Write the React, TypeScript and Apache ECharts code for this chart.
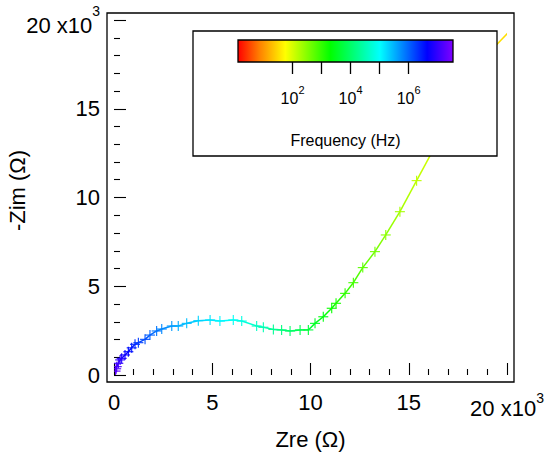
import React, { useEffect, useRef } from "react";
import * as echarts from "echarts";

// Nyquist data (Ω), ordered from high frequency (near origin) to low frequency
const zre = [80, 110, 140, 220, 310, 390, 560, 730, 900, 1070, 1240, 1580, 1830, 2170, 2430, 2940, 3270, 3700, 4290, 4890, 5390, 6070, 6500, 7260, 7600, 8110, 8530, 8960, 9470, 9890, 10230, 10650, 11080, 11300, 11760, 12180, 12660, 13280, 13830, 14550, 15400, 16300, 17300, 18400, 19200, 20600];
const zim = [220, 350, 470, 660, 850, 940, 1130, 1310, 1530, 1730, 1820, 2010, 2250, 2480, 2590, 2760, 2760, 2910, 3060, 3100, 3040, 3100, 3040, 2760, 2690, 2570, 2540, 2480, 2540, 2540, 2910, 3280, 3760, 4040, 4600, 5200, 6050, 6950, 7890, 9200, 10950, 12800, 14800, 16900, 18300, 19900];
// log10(frequency / Hz) of each point
const logFreq = [7.3, 7.22, 7.14, 7.05, 6.95, 6.85, 6.73, 6.62, 6.5, 6.38, 6.26, 6.14, 6.02, 5.9, 5.78, 5.66, 5.54, 5.42, 5.3, 5.18, 5.06, 4.94, 4.82, 4.62, 4.5, 4.3, 4.15, 4.0, 3.85, 3.7, 3.55, 3.4, 3.25, 3.15, 3.02, 2.9, 2.75, 2.6, 2.45, 2.3, 2.15, 2.0, 1.85, 1.7, 1.58, 1.45];

const axisMax = 20000;
const axisInterval = 5000;
const expLabel = "3";
const cbTickValues = [2, 3, 4, 5, 6];
const cbLabelValues = [2, 4, 6];
const CB_MIN = 0.12;
const CB_MAX = 7.53;

const rainbow: [number, string][] = [
  [0, "#ff0000"],
  [0.1, "#ff8000"],
  [0.22, "#ffff00"],
  [0.43, "#00ff00"],
  [0.66, "#00ffff"],
  [0.88, "#0000ff"],
  [1, "#8000ff"],
];

const FONT = "'Liberation Sans', Arial, Helvetica, sans-serif";

// layout
const GRID_L = 114, GRID_T = 20, GRID_W = 393, GRID_H = 355, OFF = 7;
const LEG_X = 193, LEG_Y = 31, LEG_W = 304, LEG_H = 125;
const CB_L = 238, CB_T = 40, CB_W = 215, CB_H = 22;

function hexToRgb(h: string) {
  const n = parseInt(h.slice(1), 16);
  return [(n >> 16) & 255, (n >> 8) & 255, n & 255];
}
function colorAt(lf: number) {
  let t = (lf - CB_MIN) / (CB_MAX - CB_MIN);
  t = Math.max(0, Math.min(1, t));
  for (let k = 0; k < rainbow.length - 1; k++) {
    const [a, ca] = rainbow[k];
    const [b, cb] = rainbow[k + 1];
    if (t >= a && t <= b) {
      const u = (t - a) / (b - a);
      const A = hexToRgb(ca), B = hexToRgb(cb);
      const c = A.map((v, j) => Math.round(v + (B[j] - v) * u));
      return `rgb(${c[0]},${c[1]},${c[2]})`;
    }
  }
  return rainbow[rainbow.length - 1][1];
}

export default function App() {
  const ref = useRef<HTMLDivElement>(null);
  useEffect(() => {
    if (!ref.current) return;
    const chart = echarts.init(ref.current, undefined, { renderer: "svg" });
    const n = zre.length;
    const colors = logFreq.map(colorAt);

    const mainLabel = (isX: boolean) => ({
      fontSize: 22,
      color: "#000",
      fontFamily: FONT,
      margin: isX ? 9 : 7,
      formatter: (v: number) =>
        v === axisMax ? `{b|${v / 1000} x10}{s|${expLabel}}` : String(v / 1000),
      rich: {
        b: { fontSize: 22, fontFamily: FONT, color: "#000", padding: isX ? [6, 0, 0, 0] : [10, 0, 0, 0] },
        s: { fontSize: 14, fontFamily: FONT, color: "#000", verticalAlign: "top" },
      },
    });

    const tickStyle = { color: "#000", width: 1.1 };

    chart.setOption({
      animation: false,
      backgroundColor: "#fff",
      grid: [
        { left: GRID_L, top: GRID_T, width: GRID_W, height: GRID_H, containLabel: false, outerBoundsMode: "none" },
        { left: CB_L, top: CB_T, width: CB_W, height: CB_H, containLabel: false, outerBoundsMode: "none" },
      ],
      xAxis: [
        {
          type: "value",
          gridIndex: 0,
          min: 0,
          max: axisMax,
          interval: axisInterval,
          offset: OFF,
          axisLine: { show: false },
          axisTick: { show: true, inside: true, length: 12, lineStyle: tickStyle },
          minorTick: { show: true, splitNumber: 5, length: 6, lineStyle: tickStyle },
          splitLine: { show: false },
          minorSplitLine: { show: false },
          axisLabel: mainLabel(true),
          name: "Zre (Ω)",
          nameLocation: "middle",
          nameGap: 46,
          nameTextStyle: { fontSize: 22, color: "#000", fontFamily: FONT },
        },
        {
          type: "value",
          gridIndex: 1,
          min: CB_MIN,
          max: CB_MAX,
          z: 12,
          axisLine: { show: false },
          axisTick: { show: true, inside: false, length: 12, customValues: cbTickValues, lineStyle: { color: "#000", width: 1.3 } },
          splitLine: { show: false },
          axisLabel: {
            customValues: cbLabelValues,
            margin: 22,
            formatter: (v: number) => `{n|10}{e|${Math.round(v)}}`,
            rich: {
              n: { fontSize: 16, fontFamily: FONT, color: "#000", padding: [6, 0, 0, 0] },
              e: { fontSize: 11, fontFamily: FONT, color: "#000", verticalAlign: "top" },
            },
          },
          name: "Frequency (Hz)",
          nameLocation: "middle",
          nameGap: 70,
          nameTextStyle: { fontSize: 16, color: "#000", fontFamily: FONT },
        },
      ],
      yAxis: [
        {
          type: "value",
          gridIndex: 0,
          min: 0,
          max: axisMax,
          interval: axisInterval,
          offset: OFF,
          axisLine: { show: false },
          axisTick: { show: true, inside: true, length: 12, lineStyle: tickStyle },
          minorTick: { show: true, splitNumber: 5, length: 6, lineStyle: tickStyle },
          splitLine: { show: false },
          minorSplitLine: { show: false },
          axisLabel: mainLabel(false),
          name: "-Zim (Ω)",
          nameLocation: "middle",
          nameGap: 79,
          nameMoveOverlap: false,
          nameTextStyle: { fontSize: 22, color: "#000", fontFamily: FONT, padding: [0, 0, 0, 14] },
        },
        { type: "value", gridIndex: 1, min: 0, max: 1, show: false },
      ],
      series: [
        {
          type: "custom",
          coordinateSystem: "cartesian2d",
          xAxisIndex: 0,
          yAxisIndex: 0,
          clip: true,
          z: 2,
          data: zre.map((x, i) => [x, zim[i], logFreq[i]]),
          renderItem: (params: any, api: any) => {
            const i = params.dataIndex;
            const p = api.coord([zre[i], zim[i]]);
            const children: any[] = [];
            if (i < n - 1) {
              const q = api.coord([zre[i + 1], zim[i + 1]]);
              children.push({
                type: "line",
                shape: { x1: p[0], y1: p[1], x2: q[0], y2: q[1] },
                style: {
                  stroke: new echarts.graphic.LinearGradient(p[0], p[1], q[0], q[1], [
                    { offset: 0, color: colors[i] },
                    { offset: 1, color: colors[i + 1] },
                  ], true),
                  lineWidth: 1.5,
                },
              });
            }
            const s = 5;
            children.push({
              type: "line",
              shape: { x1: p[0] - s, y1: p[1], x2: p[0] + s, y2: p[1] },
              style: { stroke: colors[i], lineWidth: 1.1 },
            });
            children.push({
              type: "line",
              shape: { x1: p[0], y1: p[1] - s, x2: p[0], y2: p[1] + s },
              style: { stroke: colors[i], lineWidth: 1.1 },
            });
            return { type: "group", children };
          },
        },
      ],
      graphic: [
        {
          type: "rect",
          z: 10,
          shape: { x: GRID_L - OFF, y: GRID_T - OFF, width: GRID_W + 2 * OFF, height: GRID_H + 2 * OFF },
          style: { fill: "none", stroke: "#000", lineWidth: 1.3 },
        },
        {
          type: "rect",
          z: 10,
          shape: { x: LEG_X, y: LEG_Y, width: LEG_W, height: LEG_H },
          style: { fill: "#fff", stroke: "#000", lineWidth: 1.3 },
        },
        {
          type: "rect",
          z: 11,
          shape: { x: CB_L, y: CB_T, width: CB_W, height: CB_H },
          style: {
            fill: new echarts.graphic.LinearGradient(0, 0, 1, 0, rainbow.map(([o, c]) => ({ offset: o, color: c }))),
            stroke: "#000",
            lineWidth: 1.3,
          },
        },
      ],
    });
    return () => chart.dispose();
  }, []);
  return <div ref={ref} style={{ position: "fixed", left: 0, top: 0, width: 549, height: 456 }} />;
}
